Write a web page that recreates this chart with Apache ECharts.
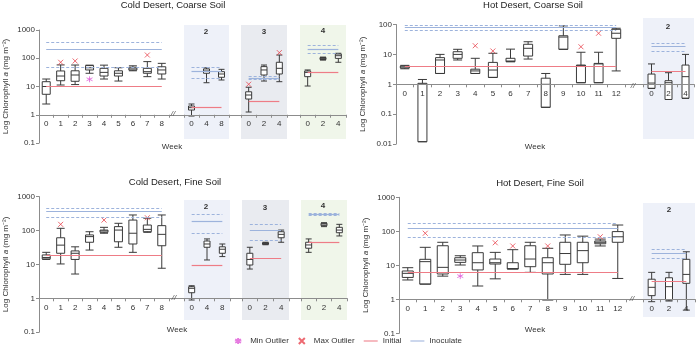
<!DOCTYPE html>
<html>
<head>
<meta charset="utf-8">
<script src="https://cdn.jsdelivr.net/npm/echarts@6/dist/echarts.min.js"></script>
<style>
html, body { margin: 0; padding: 0; background: #fff; }
#chart { width: 696px; height: 353px; }
</style>
</head>
<body>
<div id="chart"></div>
<script>
// values (mg m-2); box = [min, q1, median, q3, max]
// inoculate = [lower dashed, mean, upper dashed]

// Cold Desert, Coarse Soil
var ccWeeks = ['0', '1', '2', '3', '4', '5', '6', '7', '8'];
var ccBox = [
	[2.4, 5.3, 10, 14.8, 18.4],
	[11.3, 16, 23.5, 35.5, 58],
	[11.7, 15.3, 25.5, 36, 57.6],
	[29.4, 38.5, 46, 55, 57],
	[18.4, 23.5, 31.6, 44, 57],
	[15.6, 23.5, 29.4, 36, 46],
	[36, 38, 42, 48, 54],
	[22.3, 29.4, 33.5, 44, 76],
	[18.4, 27.7, 38.5, 50, 66]
];
var ccMaxOut = [['1', 72], ['2', 80], ['7', 130]];
var ccMinOut = [['3', 18]];
var ccInitial = 10;
var ccInoc = [46.5, 213, 376];

var cc2Weeks = ['0', '4', '8'];
var cc2Box = [[0.9, 1.47, 1.78, 2.04, 2.4], [13.6, 29.4, 35.5, 41.8, 46], [17, 21.2, 27.7, 33.5, 40.5]];
var cc2Initial = 1.78;
var cc2Inoc = [18.9, 35.5, 50];

var cc3Weeks = ['0', '2', '4'];
var cc3Box = [[1.25, 3.6, 5, 6.5, 9.4], [15.6, 25.5, 38.5, 50.5, 57.6], [14.8, 27.7, 44, 72, 130]];
var cc3MaxOut = [['0', 12], ['4', 158]];
var cc3Initial = 3.1;
var cc3Inoc = [18, 20, 23];

var cc4Weeks = ['0', '2', '4'];
var cc4Box = [[10.4, 22.3, 31.6, 35.5, 38.5], [86, 90, 97, 106, 110], [72, 99, 123, 141, 150]];
var cc4Initial = 32.6;
var cc4Inoc = [149, 210, 278];

// Hot Desert, Coarse Soil
var hcWeeks = ['0', '1', '2', '3', '4', '5', '6', '7', '8', '9', '10', '11', '12'];
var hcBox = [
	[3.3, 3.5, 3.8, 4.1, 4.3],
	[0.012, 0.012, 1.0, 1.08, 1.45],
	[2.3, 2.3, 6.5, 7.8, 10],
	[6.5, 7.4, 10, 12.3, 14.8],
	[2.3, 2.3, 2.8, 3.2, 7.4],
	[1.7, 1.7, 3.0, 5.4, 10.9],
	[5.7, 5.7, 6.0, 7.4, 15],
	[7, 8.8, 16, 21.8, 26.5],
	[0.17, 0.17, 1.0, 1.6, 2.3],
	[14.8, 14.8, 38, 42, 90],
	[1.13, 1.13, 4.2, 4.4, 11.8],
	[1.13, 1.13, 4.8, 5.0, 11.8],
	[2.8, 34.5, 51, 69, 75]
];
var hcMaxOut = [['4', 19.5], ['5', 13], ['10', 18], ['11', 51]];
var hcInitial = 3.9;
var hcInoc = [66, 82, 92];

var hc2Weeks = ['0', '2', '4'];
var hc2Box = [[0.73, 0.73, 1.1, 2.2, 4.8], [0.31, 0.31, 1.13, 1.32, 2.44], [0.34, 0.34, 1.8, 4.4, 10]];
var hc2Initial = 2.8;
var hc2Inoc = [12.3, 18.1, 23.5];

// Cold Desert, Fine Soil
var cfWeeks = ['0', '1', '2', '3', '4', '5', '6', '7', '8'];
var cfBox = [
	[14, 14.5, 16, 19, 22.7],
	[10.3, 21.3, 37, 61, 116],
	[5.2, 14, 21.3, 25, 33],
	[26.5, 45, 66, 74, 92],
	[83, 88.5, 97, 103, 124],
	[32, 46.5, 103, 130, 163],
	[22.7, 40, 83, 203, 287],
	[88.5, 92, 108, 145, 230],
	[7.7, 35.5, 77, 139, 287]
];
var cfMaxOut = [['1', 152], ['4', 203], ['7', 238]];
var cfInitial = 18;
var cfInoc = [251, 359, 452];

var cf2Weeks = ['0', '4', '8'];
var cf2Box = [[0.89, 1.46, 1.97, 2.2, 2.35], [13.5, 32, 40, 49, 56.4], [17, 21.3, 28, 33, 40]];
var cf2Initial = 9.6;
var cf2Inoc = [83, 182, 300];

var cf3Weeks = ['0', '2', '4'];
var cf3Box = [[7.3, 9.6, 14, 21.3, 32], [38, 39, 41.5, 43.6, 45], [45, 61, 77, 92, 103]];
var cf3Initial = 15;
var cf3Inoc = [52.6, 103, 152];

var cf4Weeks = ['0', '2', '4'];
var cf4Box = [[22.7, 30, 37.5, 45, 56.4], [130, 139, 155, 163, 170], [69, 86, 103, 124, 152]];
var cf4Initial = 45;
var cf4Inoc = [285, 300, 320];

// Hot Desert, Fine Soil
var hfWeeks = ['0', '1', '2', '3', '4', '5', '6', '7', '8', '9', '10', '11', '12'];
var hfBox = [
	[3.7, 4.4, 5.8, 6.8, 8.5],
	[2.8, 2.8, 12.8, 15, 33.8],
	[4.8, 5.55, 8.7, 37.6, 47.5],
	[10.2, 12.2, 14.3, 16.7, 19.1],
	[2.46, 7.3, 11.9, 23.5, 37],
	[4.0, 10.9, 11.9, 15.3, 24],
	[7.8, 7.8, 8, 11.9, 28.8],
	[6.2, 9.1, 15.3, 37.6, 47.5],
	[0.95, 5.55, 11.9, 16.7, 31.6],
	[5.4, 10.7, 22.2, 47.5, 78],
	[5.4, 11.9, 27, 47.5, 72],
	[37, 43, 47.5, 52, 59],
	[4.1, 47.5, 69, 98, 153]
];
var hfMaxOut = [['1', 87.6], ['5', 46], ['6', 37], ['8', 37], ['11', 69]];
var hfMinOut = [['3', 4.8]];
var hfInitial = 6.05;
var hfInoc = [69, 123, 172];

var hf2Weeks = ['0', '2', '4'];
var hf2Box = [[0.85, 1.28, 2.25, 3.9, 6.2], [0.89, 0.95, 2.35, 4.3, 6.2], [0.48, 2.95, 5.4, 15, 25]];
var hf2Initial = 3.3;
var hf2Inoc = [16, 22.5, 30];

// ---- layout ----
var RED = '#ee7c86', BLUE = '#9db3dc', MINC = '#e05ad8', MAXC = '#e8454f', AX = '#8c8c8c';
var BG2 = '#eef1f9', BG3 = '#e9ebf0', BG4 = '#f0f6ea';
var SYM_X = 'path://M0,0L10,10M0,10L10,0';
var SYM_STAR = 'path://M5,0L5,10M0,2.5L10,7.5M0,7.5L10,2.5';
var SYM_LINE = 'path://M0,0L16,0L16,1.2L0,1.2Z';
var FONT = 'Liberation Sans, Arial, sans-serif';

// y pixel of value 1 and pixels per decade for each of the four charts
var panels = {
	tl: { y1: 114.75, ppd: 28.25 },
	tr: { y1: 84.3, ppd: 29.9 },
	bl: { y1: 298.3, ppd: 33.9 },
	br: { y1: 299.3, ppd: 34 }
};

var plots = [
	{ p: 'tl', main: true, left: 39, right: 169, logMin: -1, logMax: 3, weeks: ccWeeks, box: ccBox, maxOut: ccMaxOut, minOut: ccMinOut, initial: ccInitial, inoc: ccInoc, boxW: 8 },
	{ p: 'tl', left: 184, right: 229, top: 25, bottom: 139, bg: BG2, weeks: cc2Weeks, box: cc2Box, initial: cc2Initial, inoc: cc2Inoc, boxW: 6 },
	{ p: 'tl', left: 241, right: 287, top: 25, bottom: 139, bg: BG3, weeks: cc3Weeks, box: cc3Box, maxOut: cc3MaxOut, initial: cc3Initial, inoc: cc3Inoc, boxW: 6 },
	{ p: 'tl', left: 300, right: 346, top: 25, bottom: 139, bg: BG4, weeks: cc4Weeks, box: cc4Box, initial: cc4Initial, inoc: cc4Inoc, boxW: 6 },

	{ p: 'tr', main: true, left: 396, right: 625, logMin: -2, logMax: 2, weeks: hcWeeks, box: hcBox, maxOut: hcMaxOut, initial: hcInitial, inoc: hcInoc, boxW: 9 },
	{ p: 'tr', left: 643, right: 694, top: 18, bottom: 139, bg: BG2, weeks: hc2Weeks, box: hc2Box, initial: hc2Initial, inoc: hc2Inoc, boxW: 7 },

	{ p: 'bl', main: true, left: 39, right: 169, logMin: -1, logMax: 3, weeks: cfWeeks, box: cfBox, maxOut: cfMaxOut, initial: cfInitial, inoc: cfInoc, boxW: 8 },
	{ p: 'bl', left: 184, right: 230, top: 200, bottom: 320, bg: BG2, weeks: cf2Weeks, box: cf2Box, initial: cf2Initial, inoc: cf2Inoc, boxW: 6 },
	{ p: 'bl', left: 242, right: 289, top: 200, bottom: 320, bg: BG3, weeks: cf3Weeks, box: cf3Box, initial: cf3Initial, inoc: cf3Inoc, boxW: 6 },
	{ p: 'bl', left: 301, right: 347, top: 200, bottom: 320, bg: BG4, weeks: cf4Weeks, box: cf4Box, initial: cf4Initial, inoc: cf4Inoc, boxW: 6 },

	{ p: 'br', main: true, left: 399, right: 626.5, logMin: -1, logMax: 3, weeks: hfWeeks, box: hfBox, maxOut: hfMaxOut, minOut: hfMinOut, initial: hfInitial, inoc: hfInoc, boxW: 11 },
	{ p: 'br', left: 643, right: 695, top: 203, bottom: 317, bg: BG2, weeks: hf2Weeks, box: hf2Box, initial: hf2Initial, inoc: hf2Inoc, boxW: 7 }
];

// continuous x-axis line through each chart and its insets
var spines = [
	{ p: 'tl', left: 39, right: 346 },
	{ p: 'tr', left: 396, right: 694 },
	{ p: 'bl', left: 39, right: 347 },
	{ p: 'br', left: 399, right: 695 }
];

function fmtLog(v) {
	return String(+Number(v).toPrecision(4));
}

var grids = [], xAxes = [], yAxes = [], series = [];

spines.forEach(function (s) {
	var P = panels[s.p], gi = grids.length;
	grids.push({ left: s.left, top: P.y1 - 1, width: s.right - s.left, height: 1, show: false });
	xAxes.push({
		gridIndex: gi, type: 'category', data: [''], z: 5,
		axisLine: { show: true, onZero: false, lineStyle: { color: AX, width: 1 } },
		axisTick: { show: false }, axisLabel: { show: false }
	});
	yAxes.push({ gridIndex: gi, type: 'value', show: false });
});

plots.forEach(function (o) {
	var P = panels[o.p], gi = grids.length, top, bottom, yMin, yMax;
	if (o.main) {
		top = P.y1 - o.logMax * P.ppd;
		bottom = P.y1 - o.logMin * P.ppd;
		yMin = Math.pow(10, o.logMin);
		yMax = Math.pow(10, o.logMax);
	} else {
		top = o.top;
		bottom = o.bottom;
		yMin = Math.pow(10, (P.y1 - bottom) / P.ppd);
		yMax = Math.pow(10, (P.y1 - top) / P.ppd);
	}
	grids.push({
		left: o.left, top: top, width: o.right - o.left, height: bottom - top,
		show: !!o.bg, backgroundColor: o.bg || 'transparent', borderWidth: 0
	});
	xAxes.push({
		gridIndex: gi, type: 'category', data: o.weeks, position: 'bottom',
		offset: -(bottom - P.y1), z: 5,
		axisLine: { show: false, onZero: false },
		axisTick: { show: true, length: 3, lineStyle: { color: AX } },
		axisLabel: { fontSize: 8, color: '#333', margin: 5, fontFamily: FONT }
	});
	if (o.main) {
		yAxes.push({
			gridIndex: gi, type: 'log', logBase: 10, min: yMin, max: yMax,
			axisLine: { show: true, lineStyle: { color: AX } },
			axisTick: { show: true, length: 3, lineStyle: { color: AX } },
			axisLabel: { fontSize: 8, color: '#333', margin: 4, formatter: fmtLog, fontFamily: FONT },
			splitLine: { show: false },
			name: 'Log Chlorophyll {i|a} (mg m⁻²)',
			nameLocation: 'middle', nameGap: 29,
			nameTextStyle: { fontSize: 8, color: '#333', fontFamily: FONT, rich: { i: { fontSize: 8, fontStyle: 'italic', color: '#333' } } }
		});
	} else {
		yAxes.push({ gridIndex: gi, type: 'log', logBase: 10, min: yMin, max: yMax, show: false });
	}

	var last = o.weeks.length - 1;
	series.push({
		name: 'box', type: 'boxplot', xAxisIndex: gi, yAxisIndex: gi, silent: true, z: 2,
		boxWidth: [o.boxW, o.boxW], data: o.box,
		itemStyle: { color: '#fff', borderColor: '#3a3a3a', borderWidth: 1 }
	});
	series.push({
		name: 'Initial', type: 'line', xAxisIndex: gi, yAxisIndex: gi, data: [], z: 3,
		color: RED, symbol: 'none', lineStyle: { color: RED, width: 1.2 },
		markLine: {
			silent: true, symbol: ['none', 'none'], label: { show: false },
			lineStyle: { color: RED, width: 1.2, type: 'solid' },
			data: [[{ coord: [0, o.initial] }, { coord: [last, o.initial] }]]
		}
	});
	series.push({
		name: 'Inoculate', type: 'line', xAxisIndex: gi, yAxisIndex: gi, data: [], z: 3,
		color: BLUE, symbol: 'none', lineStyle: { color: BLUE, width: 1.2 },
		markLine: {
			silent: true, symbol: ['none', 'none'], label: { show: false },
			lineStyle: { color: BLUE, width: 1 },
			data: o.inoc.map(function (v, i) {
				return [
					{ coord: [0, v], lineStyle: { color: BLUE, width: i === 1 ? 1.2 : 1, type: i === 1 ? 'solid' : [3, 2] } },
					{ coord: [last, v] }
				];
			})
		}
	});
	if (o.maxOut) {
		series.push({
			name: 'Max Outlier', type: 'scatter', xAxisIndex: gi, yAxisIndex: gi, z: 4,
			symbol: SYM_X, symbolSize: 5,
			itemStyle: { color: MAXC, borderColor: MAXC, borderWidth: 1 },
			data: o.maxOut.map(function (d) { return [o.weeks.indexOf(d[0]), d[1]]; })
		});
	}
	if (o.minOut) {
		series.push({
			name: 'Min Outlier', type: 'scatter', xAxisIndex: gi, yAxisIndex: gi, z: 4,
			symbol: SYM_STAR, symbolSize: 6,
			itemStyle: { color: MINC, borderColor: MINC, borderWidth: 1 },
			data: o.minOut.map(function (d) { return [o.weeks.indexOf(d[0]), d[1]]; })
		});
	}
});

function txt(t, x, y, extra) {
	var st = { text: t, x: x, y: y, fill: '#333', font: '8px ' + FONT, align: 'center', verticalAlign: 'middle' };
	for (var k in extra) st[k] = extra[k];
	return { type: 'text', silent: true, z: 10, style: st };
}

var titleStyle = { fontSize: 9.5, fontWeight: 'normal', color: '#222', fontFamily: FONT };

var chart = echarts.init(document.getElementById('chart'));
chart.setOption({
	animation: false,
	backgroundColor: '#fff',
	textStyle: { fontFamily: FONT },
	title: [
		{ text: 'Cold Desert, Coarse Soil', left: 173, top: 0, padding: 0, textAlign: 'center', textStyle: titleStyle },
		{ text: 'Hot Desert, Coarse Soil', left: 533, top: 0, padding: 0, textAlign: 'center', textStyle: titleStyle },
		{ text: 'Cold Desert, Fine Soil', left: 175, top: 177, padding: 0, textAlign: 'center', textStyle: titleStyle },
		{ text: 'Hot Desert, Fine Soil', left: 540, top: 178, padding: 0, textAlign: 'center', textStyle: titleStyle }
	],
	legend: {
		bottom: 3, left: 'center', itemGap: 9, itemWidth: 14, itemHeight: 6,
		textStyle: { fontSize: 8, color: '#333' },
		data: [
			{ name: 'Min Outlier', icon: SYM_STAR },
			{ name: 'Max Outlier', icon: SYM_X },
			{ name: 'Initial', icon: SYM_LINE },
			{ name: 'Inoculate', icon: SYM_LINE }
		]
	},
	graphic: [
		txt('2', 206, 32, { font: 'bold 8px ' + FONT }),
		txt('3', 264, 32, { font: 'bold 8px ' + FONT }),
		txt('4', 323, 31, { font: 'bold 8px ' + FONT }),
		txt('2', 668, 27, { font: 'bold 8px ' + FONT }),
		txt('2', 206, 207, { font: 'bold 8px ' + FONT }),
		txt('3', 265, 208, { font: 'bold 8px ' + FONT }),
		txt('4', 323, 206, { font: 'bold 8px ' + FONT }),
		txt('2', 669, 210, { font: 'bold 8px ' + FONT }),
		txt('//', 173, 114, { font: 'italic 8px ' + FONT, fill: '#555' }),
		txt('//', 633, 86, { font: 'italic 8px ' + FONT, fill: '#555' }),
		txt('//', 174, 298, { font: 'italic 8px ' + FONT, fill: '#555' }),
		txt('//', 632, 299, { font: 'italic 8px ' + FONT, fill: '#555' }),
		txt('Week', 172, 147),
		txt('Week', 535, 147),
		txt('Week', 177, 330),
		txt('Week', 535, 330)
	],
	grid: grids,
	xAxis: xAxes,
	yAxis: yAxes,
	series: series
});
</script>
</body>
</html>
